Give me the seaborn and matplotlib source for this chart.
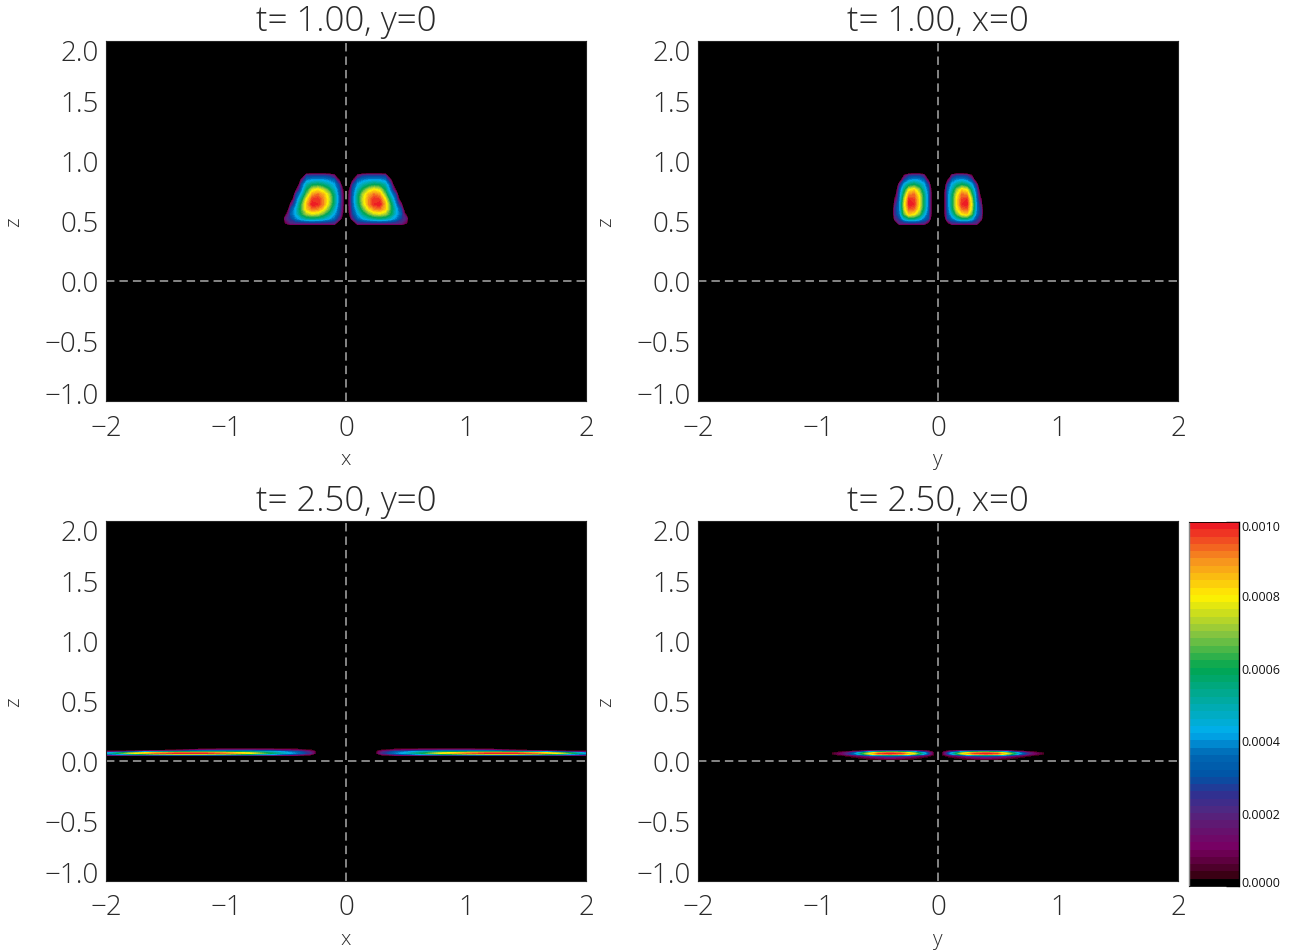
import matplotlib
matplotlib.use("Agg")
import matplotlib.pyplot as plt
import numpy as np
import seaborn as sns
from matplotlib.colors import BoundaryNorm, LinearSegmentedColormap
from matplotlib.transforms import ScaledTranslation

OUTPUT_FILE_NAME = "out.png"
WIDTH, HEIGHT = 1304, 953

TITLES = ["t= 1.00, y=0", "t= 1.00, x=0", "t= 2.50, y=0", "t= 2.50, x=0"]
XLABELS = ["x", "y", "x", "y"]
X_TICKS = [-2, -1, 0, 1, 2]
Z_TICKS = [-1.0, -0.5, 0.0, 0.5, 1.0, 1.5, 2.0]
CBAR_MAJOR = [0.0, 0.0002, 0.0004, 0.0006, 0.0008, 0.0010]
CBAR_MINOR = [0.0001, 0.0003, 0.0005, 0.0007, 0.0009]

# colour table
CMAP_STOPS = [0.0, 0.01, 0.02, 0.05, 0.10, 0.15, 0.20, 0.25, 0.30, 0.36, 0.42, 0.50, 0.60, 0.70, 0.80, 0.90, 1.0]
CMAP_COLORS = ["#000000", "#000000", "#3a0014", "#560034", "#780064", "#64146e", "#502882", "#2e3192",
               "#0054a6", "#0068b4", "#00aeef", "#00aaaa", "#00a651", "#8dc63f", "#fff200", "#f7941e", "#ed1c24"]
N_BANDS = 50

# field values (1e-5), top row first; below 0 = outside the lobe
# t=1, y=0, left lobe (the right lobe is its mirror image)
XZ1_X = [-0.55, -0.505, -0.46, -0.415, -0.37, -0.325, -0.28, -0.235, -0.19, -0.145, -0.10, -0.055, -0.01]
XZ1_Z = [0.92, 0.88, 0.84, 0.80, 0.76, 0.72, 0.68, 0.64, 0.60, 0.56, 0.52, 0.48, 0.44]
XZ1_F = [
    [-40, -40, -40, -40, -40, -40, -40, -40, -40, -40, -40, -40, -40],
    [-60, -60, -60, -60, -29, 24, 26, 26, 26, 24, 12, -50, -60],
    [-60, -60, -60, -50, 13, 38, 41, 42, 41, 38, 34, 1, -60],
    [-60, -60, -60, -22, 30, 50, 58, 60, 56, 50, 42, 25, -40],
    [-60, -60, -60, 2, 36, 58, 76, 80, 74, 62, 48, 30, -12],
    [-60, -60, -38, 26, 44, 68, 88, 92, 86, 74, 54, 32, -6],
    [-60, -60, -14, 32, 54, 80, 96, 98, 90, 76, 56, 33, -6],
    [-60, -55, 10, 38, 62, 86, 100, 98, 90, 74, 54, 32, -6],
    [-60, -31, 27, 44, 64, 84, 92, 90, 80, 66, 48, 30, -8],
    [-60, -7, 32, 44, 60, 72, 76, 74, 66, 54, 42, 27, -12],
    [-48, 16, 26, 38, 46, 52, 54, 52, 48, 42, 34, 19, -30],
    [-60, 4, 19, 19, 19, 19, 19, 19, 19, 19, 19, -29, -60],
    [-38, -38, -38, -38, -38, -38, -38, -38, -38, -38, -38, -38, -38],
]

# t=1, x=0, left lobe
YZ1_Y = [-0.40, -0.36, -0.32, -0.28, -0.24, -0.20, -0.16, -0.12, -0.08, -0.04, 0.0]
YZ1_Z = XZ1_Z
YZ1_F = [
    [-40, -40, -40, -40, -40, -40, -40, -40, -40, -40, -40],
    [-60, -60, -60, 5, 24, 26, 26, 17, -40, -60, -60],
    [-60, -60, -11, 28, 38, 42, 40, 34, 2, -55, -60],
    [-60, -38, 20, 44, 56, 60, 54, 44, 25, -32, -60],
    [-60, -20, 30, 54, 78, 82, 70, 50, 32, -20, -60],
    [-60, -8, 34, 64, 90, 92, 78, 56, 34, -14, -60],
    [-60, 4, 36, 72, 98, 96, 82, 58, 34, -14, -60],
    [-60, 15, 38, 76, 100, 98, 82, 58, 34, -14, -60],
    [-60, 22, 38, 74, 94, 92, 78, 56, 32, -14, -60],
    [-60, 22, 36, 66, 84, 80, 68, 48, 30, -14, -60],
    [-60, 16, 28, 46, 56, 56, 48, 36, 27, -26, -60],
    [-60, -26, 19, 19, 19, 19, 19, 19, -5, -60, -60],
    [-40, -40, -40, -40, -40, -40, -40, -40, -40, -40, -40],
]

# t=2.5, y=0, left lobe
XZ2_X = [-2.0, -1.8, -1.6, -1.4, -1.2, -1.0, -0.8, -0.6, -0.4, -0.3, -0.27, -0.25]
XZ2_Z = [0.105, 0.095, 0.085, 0.075, 0.065, 0.055, 0.045]
XZ2_F = [
    [0, 0, 0, 0, 0, 0, 0, 0, 0, 0, 0, 0],
    [0, 0, 0, 0, 6, 10, 10, 8, 4, 0, 0, 0],
    [0, 0, 4, 14, 28, 30, 30, 26, 18, 8, 4, 0],
    [12, 30, 50, 60, 64, 62, 56, 46, 32, 18, 10, 0],
    [44, 75, 92, 100, 100, 92, 80, 55, 36, 22, 12, 0],
    [30, 42, 54, 60, 60, 56, 48, 36, 20, 8, 0, 0],
    [0, 0, 0, 0, 0, 0, 0, 0, 0, 0, 0, 0],
]

# t=2.5, x=0, left lobe
YZ2_Y = [-0.88, -0.8, -0.7, -0.6, -0.5, -0.4, -0.3, -0.2, -0.1, -0.05, -0.03]
YZ2_Z = [0.09, 0.08, 0.07, 0.06, 0.05, 0.04, 0.03, 0.02, 0.01]
YZ2_F = [
    [0, 0, 0, 0, 0, 0, 0, 0, 0, 0, 0],
    [0, 0, 4, 14, 30, 38, 36, 26, 10, 2, 0],
    [2, 8, 28, 60, 84, 90, 86, 66, 34, 8, 0],
    [4, 12, 36, 72, 96, 100, 96, 78, 40, 10, 0],
    [0, 4, 14, 34, 50, 56, 50, 34, 14, 4, 0],
    [0, 0, 5, 12, 20, 24, 20, 12, 5, 0, 0],
    [0, 0, 2, 7, 12, 14, 12, 7, 2, 0, 0],
    [0, 0, 0, 3, 6, 8, 6, 3, 0, 0, 0],
    [0, 0, 0, 0, 0, 0, 0, 0, 0, 0, 0],
]

sns.set_style("white")
plt.rcParams["font.family"] = ["Open Sans", "DejaVu Sans"]
plt.rcParams["font.weight"] = "light"
plt.rcParams["axes.titleweight"] = "light"
plt.rcParams["axes.labelweight"] = "light"
TEXT_COLOR = "#2a2a2a"

levels = np.linspace(0, 0.001, N_BANDS + 1)
cmap = LinearSegmentedColormap.from_list("table", list(zip(CMAP_STOPS, CMAP_COLORS)), N=N_BANDS)
norm = BoundaryNorm(levels, N_BANDS)


def pixel_axes(fig, left, top, right, bottom):
    return fig.add_axes([left / WIDTH, 1 - bottom / HEIGHT, (right - left) / WIDTH, (bottom - top) / HEIGHT])


def nudge(label, dy):
    # move a tick label up by dy pixels
    label.set_transform(label.get_transform() + ScaledTranslation(0, dy / 100, plt.gcf().dpi_scale_trans))


def draw_panel(ax, xs, zs, field, title, xlabel):
    xs = np.array(xs)
    zs = np.array(zs)
    values = np.array(field) * 1e-5
    ax.set_facecolor("black")
    ax.contourf(xs, zs, values, levels=levels, cmap=cmap, norm=norm)
    ax.contourf(-xs, zs, values, levels=levels, cmap=cmap, norm=norm)
    ax.axhline(0, color="#aaaaaa", lw=1.1, dashes=(5.5, 3.3))
    ax.axvline(0, color="#aaaaaa", lw=1.1, dashes=(5.5, 3.3))
    ax.set_xlim(-2, 2)
    ax.set_ylim(-1, 2)

    ax.set_xticks(X_TICKS)
    ax.set_xticklabels([str(t).replace("-", "\u2212") for t in X_TICKS])
    ax.set_yticks(Z_TICKS)
    ax.set_yticklabels([f"{t:.1f}".replace("-", "\u2212") for t in Z_TICKS])
    ax.tick_params(length=0, labelsize=20, labelcolor=TEXT_COLOR)
    ax.tick_params(axis="x", pad=9)
    ax.tick_params(axis="y", pad=5)
    ax.get_yticklabels()[0].set_va("baseline")
    nudge(ax.get_yticklabels()[0], -1.5)
    ax.get_yticklabels()[-1].set_va("top")
    nudge(ax.get_yticklabels()[-1], 2)

    ax.set_title(title, fontsize=25, color=TEXT_COLOR, pad=8)
    ax.set_xlabel(xlabel, fontsize=15, color=TEXT_COLOR)
    ax.set_ylabel("z", fontsize=15, color=TEXT_COLOR)
    ax.xaxis.set_label_coords(0.5, -48 / 360)
    ax.yaxis.set_label_coords(-82 / 480, 0.5)
    for spine in ax.spines.values():
        spine.set_color("#222222")
        spine.set_linewidth(0.8)


def draw_colorbar(ax):
    # one heatmap row per colour band, highest value on top
    mids = ((levels[:-1] + levels[1:]) / 2)[::-1].reshape(-1, 1)
    sns.heatmap(mids, ax=ax, cmap=cmap, norm=norm, cbar=False, xticklabels=False, yticklabels=False)
    to_row = lambda v: (0.001 - v) / 0.001 * N_BANDS
    ax.yaxis.tick_right()
    ax.set_yticks([to_row(v) for v in CBAR_MAJOR])
    ax.set_yticklabels([f"{v:.4f}" for v in CBAR_MAJOR], fontweight="normal")
    ax.set_yticks([to_row(v) for v in CBAR_MINOR], minor=True)
    ax.tick_params(axis="y", which="major", direction="in", length=9.5, width=1, color="black",
                   labelsize=9, labelcolor="#111111", pad=2, right=True, left=False)
    ax.tick_params(axis="y", which="minor", direction="in", length=4.5, width=1, color="black",
                   right=True, left=False)
    ax.get_yticklabels()[0].set_va("baseline")
    ax.get_yticklabels()[-1].set_va("top")
    nudge(ax.get_yticklabels()[-1], 2)
    ax.set_xlabel("")
    ax.set_ylabel("")
    for name, spine in ax.spines.items():
        spine.set_visible(True)
        spine.set_color("#888888" if name == "left" else "black")
        spine.set_linewidth(0.6 if name in ("top", "bottom") else 1.0)


fig = plt.figure(figsize=(WIDTH / 100, HEIGHT / 100), dpi=100, facecolor="white")

boxes = [(106, 42, 586, 402), (698, 42, 1178, 402), (106, 522, 586, 882), (698, 522, 1178, 882)]
grids = [(XZ1_X, XZ1_Z, XZ1_F), (YZ1_Y, YZ1_Z, YZ1_F), (XZ2_X, XZ2_Z, XZ2_F), (YZ2_Y, YZ2_Z, YZ2_F)]
for box, grid, title, xlabel in zip(boxes, grids, TITLES, XLABELS):
    draw_panel(pixel_axes(fig, *box), *grid, title, xlabel)

draw_colorbar(pixel_axes(fig, 1189, 523, 1239, 887))

fig.savefig(OUTPUT_FILE_NAME, dpi=100)
